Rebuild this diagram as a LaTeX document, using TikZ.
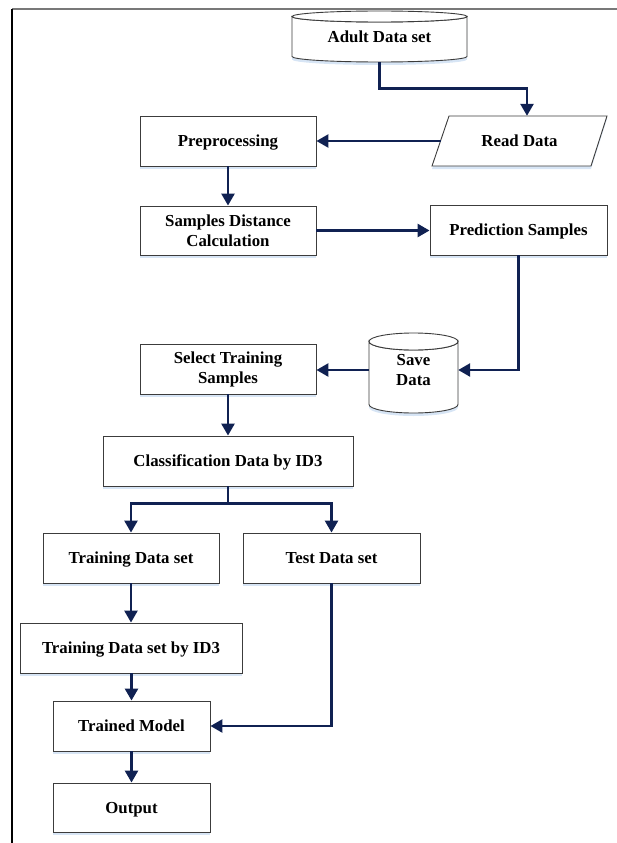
\documentclass[tikz,border=0pt]{standalone}
\usepackage{fontspec}
\setmainfont{Liberation Serif}
\usetikzlibrary{arrows.meta,shadows}
\definecolor{arrowc}{RGB}{16,33,82}
\definecolor{boxline}{RGB}{60,60,60}
\definecolor{shadowc}{RGB}{205,222,242}
\definecolor{frametop}{RGB}{120,120,120}
\tikzset{
  box/.style={draw=boxline, line width=0.9pt, fill=white, rectangle, inner sep=0pt,
    minimum height=50pt, align=center,
    font=\fontsize{16.8}{20}\selectfont\bfseries,
    drop shadow={shadow xshift=0pt, shadow yshift=-3pt, fill=shadowc, opacity=0.8}},
  oneline/.style={text height=11.4pt, text depth=0pt},
  plain/.style={rectangle, inner sep=0pt, align=center,
    font=\fontsize{16.8}{20}\selectfont\bfseries},
  cyl/.style={draw=boxline, line width=0.9pt, fill=white},
  cylshadow/.style={fill=shadowc, opacity=0.8},
  link/.style={draw=arrowc, line width=2.6pt, -{Triangle[width=13pt,length=12pt]}},
  linknotip/.style={draw=arrowc, line width=2.6pt},
}
\begin{document}
\begin{tikzpicture}[x=1pt,y=-1pt]
\useasboundingbox (0,0) rectangle (617,843);
% frame
\draw[frametop, line width=2pt] (12,9) -- (617,9);
\draw[black, line width=1.5pt] (12,9) -- (12,843);

% Adult Data set cylinder
\fill[cylshadow] (292,19.5) -- (292,59.5) arc (180:0:87.5 and 5.5) -- (467,19.5) -- cycle;
\path[cyl] (292,16.5) -- (292,56.5) arc (180:0:87.5 and 5.5) -- (467,16.5) arc (0:180:87.5 and 5.5) -- cycle;
\draw[cyl] (379.5,16.5) ellipse (87.5 and 5.5);
\node[plain, oneline, minimum width=175pt, minimum height=50pt] (ads) at (379.5,37) {Adult Data set};

% Read Data parallelogram
\fill[cylshadow] (449,119) -- (607,119) -- (591,169) -- (432,169) -- cycle;
\draw[cyl] (449,116) -- (607,116) -- (591,166) -- (432,166) -- cycle;
\node[plain, oneline, minimum width=157pt, minimum height=50pt] (rd) at (519.5,141) {Read Data};

% Save Data cylinder
\fill[cylshadow] (369,344.5) -- (369,407.5) arc (180:0:44.5 and 8.5) -- (458,344.5) -- cycle;
\path[cyl] (369,341.5) -- (369,404.5) arc (180:0:44.5 and 8.5) -- (458,341.5) arc (0:180:44.5 and 8.5) -- cycle;
\draw[cyl] (413.5,341.5) ellipse (44.5 and 8.5);
\node[plain, minimum width=89pt, minimum height=70pt] (sd) at (413.5,370) {Save\\Data};

% boxes
\node[box, oneline, minimum width=176pt] (pre) at (228,141) {Preprocessing};
\node[box, minimum width=176pt, minimum height=49pt] (sdc) at (228,230.5) {Samples Distance\\Calculation};
\node[box, oneline, minimum width=177pt] (ps) at (518.5,230) {Prediction Samples};
\node[box, minimum width=176pt] (sts) at (228,369) {Select Training\\Samples};
\node[box, oneline, minimum width=250pt] (cd) at (228,461) {Classification Data by ID3};
\node[box, oneline, minimum width=176pt] (tds) at (131,558) {Training Data set};
\node[box, oneline, minimum width=177pt] (test) at (331.5,558) {Test Data set};
\node[box, oneline, minimum width=222pt] (tid3) at (131,648) {Training Data set by ID3};
\node[box, oneline, minimum width=157pt] (tm) at (131.5,726) {Trained Model};
\node[box, oneline, minimum width=157pt, minimum height=49pt] (out) at (131.5,807.5) {Output};

% connectors
\draw[link] (ads.south) -- ++(0,26) -| ([xshift=7.5pt]rd.north);
\draw[link] (rd.west) -- (pre.east);
\draw[link] (pre.south) -- (sdc.north);
\draw[link] (sdc.east) -- (sdc.east -| ps.west);
\draw[link] (ps.south) |- (sd.east);
\draw[link] (sd.west) -- (sd.west -| sts.east);
\draw[link] (sts.south) -- (sts.south |- cd.north);
\draw[linknotip] (cd.south) -- ++(0,17) coordinate (br);
\draw[link] (br) -| (tds.north);
\draw[link] (br) -| (test.north);
\draw[link] (tds.south) -- (tid3.north);
\draw[link] (test.south) |- (tm.east);
\draw[link] (tid3.south -| tm.north) -- (tm.north);
\draw[link] (tm.south) -- (out.north);
\end{tikzpicture}
\end{document}
